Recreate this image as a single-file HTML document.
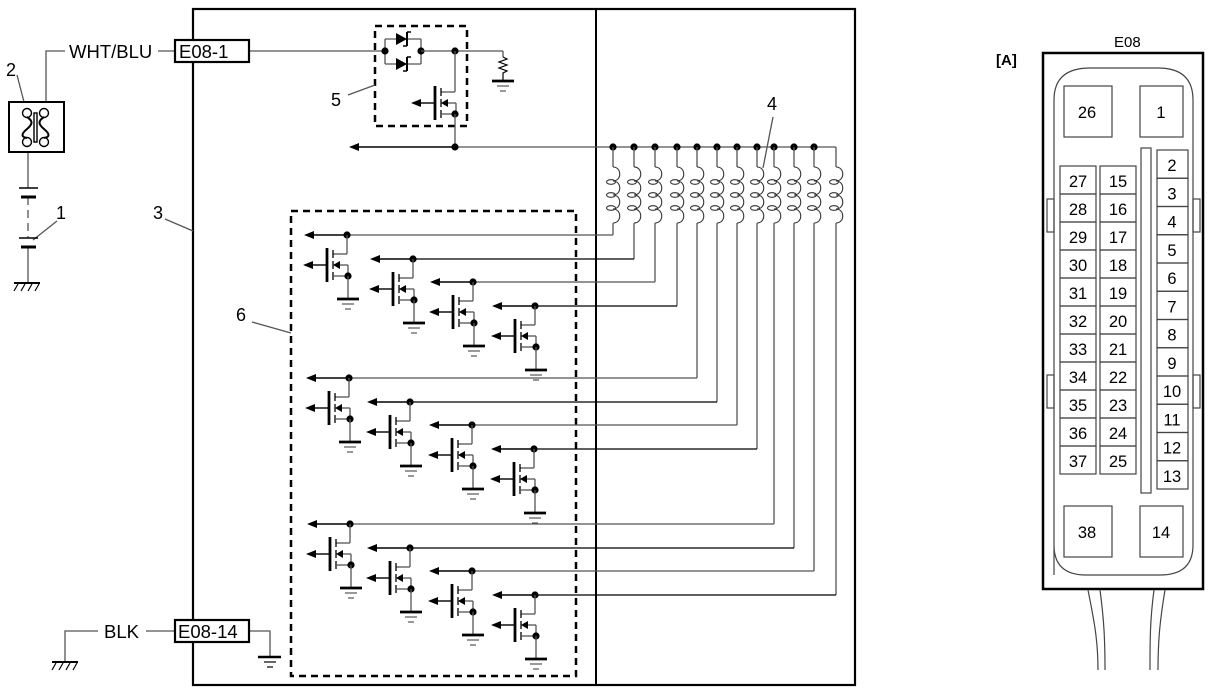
<!DOCTYPE html>
<html><head><meta charset="utf-8"><style>
html,body{margin:0;padding:0;background:#fff;width:1214px;height:694px;overflow:hidden}
svg text{font-family:"Liberation Sans",Arial,sans-serif;fill:#000}
</style></head><body>
<svg id="s" width="1214" height="694" viewBox="0 0 1214 694" xmlns="http://www.w3.org/2000/svg">
<g fill="none" stroke="#000">
<rect x="193" y="9" width="662" height="676" stroke-width="2.2"/>
<line x1="596" y1="9" x2="596" y2="685" stroke-width="2"/>
<rect x="375" y="26" width="92" height="100" stroke-width="2.5" stroke-dasharray="7,5"/>
<rect x="291" y="211" width="285" height="465" stroke-width="2.5" stroke-dasharray="7,5"/>
</g>
<text x="69" y="58" font-size="18.5">WHT/BLU</text>
<g stroke="#555" stroke-width="1.3" fill="none">
<polyline points="65,51 46,51 46,102"/>
<line x1="158" y1="51" x2="175" y2="51"/>
<line x1="249" y1="51" x2="385" y2="51"/>
<line x1="28" y1="152" x2="28" y2="188"/>
<line x1="28" y1="197" x2="28" y2="238" stroke-dasharray="8,5"/>
<line x1="28" y1="248" x2="28" y2="283"/>
<line x1="33" y1="240" x2="57" y2="221"/>
<line x1="17" y1="75" x2="24" y2="102"/>
<line x1="165" y1="219" x2="193" y2="231"/>
<line x1="348" y1="95" x2="375" y2="85"/>
<line x1="773" y1="117" x2="763" y2="168"/>
<line x1="252" y1="322" x2="291" y2="333"/>
</g>
<rect x="175" y="40" width="74" height="22" fill="#fff" stroke="#000" stroke-width="2.2"/>
<text x="179" y="58" font-size="18.5">E08-1</text>
<rect x="9" y="102" width="55" height="50" fill="none" stroke="#000" stroke-width="2"/>
<g stroke="#000" stroke-width="1.4" fill="#fff">
<circle cx="27" cy="113" r="4.5"/><circle cx="44" cy="113" r="4.5"/>
<circle cx="27" cy="142" r="4.5"/><circle cx="44" cy="142" r="4.5"/>
<path d="M27,117 c6,4 6,7 0,12 c-6,5 -6,8 0,9" fill="none" stroke-width="2"/>
<path d="M44,117 c-6,4 -6,7 0,12 c6,5 6,8 0,9" fill="none" stroke-width="2"/>
<rect x="34" y="113" width="3" height="29"/>
</g>
<g stroke="#000">
<line x1="19" y1="188" x2="38" y2="188" stroke-width="1.5"/>
<line x1="21" y1="197" x2="36" y2="197" stroke-width="3"/>
<line x1="19" y1="238" x2="38" y2="238" stroke-width="1.5"/>
<line x1="21" y1="247" x2="36" y2="247" stroke-width="3"/>
<line x1="14" y1="283" x2="40" y2="283" stroke-width="2"/>
<path d="M18,284 l-4,7 M25,284 l-4,7 M32,284 l-4,7 M39,284 l-4,7" stroke-width="1.2"/>
</g>
<text x="6" y="76" font-size="18">2</text>
<text x="56" y="219" font-size="18">1</text>
<text x="153" y="219" font-size="18">3</text>
<text x="331" y="106" font-size="18">5</text>
<text x="767" y="110" font-size="18">4</text>
<text x="236" y="321" font-size="18">6</text>
<text x="104" y="638" font-size="18.5">BLK</text>
<g stroke="#555" stroke-width="1.3" fill="none">
<polyline points="98,631 65,631 65,662"/>
<line x1="146" y1="631" x2="175" y2="631"/>
<polyline points="249,631 270,631 270,657"/>
</g>
<rect x="175" y="620" width="74" height="22" fill="#fff" stroke="#000" stroke-width="2.2"/>
<text x="178" y="638" font-size="18.5">E08-14</text>
<g stroke="#000">
<line x1="52" y1="662" x2="78" y2="662" stroke-width="2"/>
<path d="M56,663 l-4,7 M63,663 l-4,7 M70,663 l-4,7 M77,663 l-4,7" stroke-width="1.2"/>
<line x1="258" y1="657" x2="281" y2="657" stroke-width="2.5"/>
<line x1="264" y1="662" x2="276" y2="662" stroke-width="1.2"/>
<line x1="267" y1="667" x2="273" y2="667" stroke-width="1.2"/>
</g>
<text x="996" y="65" font-size="15" font-weight="bold">[A]</text>
<text x="1114" y="47" font-size="15">E08</text>
<g fill="none" stroke="#000">
<rect x="1043" y="53" width="160" height="536" stroke-width="2.5"/>
<path d="M1054,575 L1054,100 Q1054,68 1090,68 L1158,68 Q1193,68 1193,100 L1193,545 Q1193,575 1160,575 L1086,575 Q1054,575 1054,545" stroke="#444" stroke-width="1.2"/>
<g stroke="#444" stroke-width="1.2">
<rect x="1047" y="199" width="7" height="33"/><rect x="1047" y="375" width="7" height="33"/>
<rect x="1193" y="199" width="7" height="33"/><rect x="1193" y="375" width="7" height="33"/>
<rect x="1064" y="86" width="48" height="51"/><rect x="1140" y="86" width="43" height="51"/>
<rect x="1064" y="506" width="48" height="51"/><rect x="1140" y="506" width="43" height="51"/>
<rect x="1141" y="148" width="10" height="345"/>
<path d="M1088,590 C1094,620 1098,640 1098,670 M1100,590 C1104,620 1105,640 1105,670 M1154,590 C1150,620 1150,640 1150,670 M1165,590 C1160,620 1158,640 1158,670"/>
</g>
</g>
<g font-size="16.5" text-anchor="middle">
<text x="1087" y="118">26</text><text x="1161" y="118">1</text>
<text x="1087" y="538">38</text><text x="1161" y="538">14</text>
</g>
<g id="pins" font-size="16.5" text-anchor="middle"></g>
<g id="dyn"></g>
</svg>
<script>
var NS="http://www.w3.org/2000/svg",dyn=document.getElementById('dyn'),pins=document.getElementById('pins');
function el(t,a,p){var e=document.createElementNS(NS,t);for(var k in a)e.setAttribute(k,a[k]);(p||dyn).appendChild(e);return e;}
function L(x1,y1,x2,y2,w,c){el('line',{x1:x1,y1:y1,x2:x2,y2:y2,stroke:c||'#000','stroke-width':w||1.3});}
function D(x,y){el('circle',{cx:x,cy:y,r:3.6,fill:'#000'});}
function A(x1,y,x2){L(x1,y,x2+8,y,1.4,'#000');el('path',{d:'M'+x2+','+y+' l10,-4 l0,8 z',fill:'#000'});}
function gnd(x,y){L(x-11,y,x+11,y,2.8);L(x-6,y+5,x+6,y+5,1.2,'#555');L(x-3,y+10,x+3,y+10,1.2,'#555');}
var c1=[27,28,29,30,31,32,33,34,35,36,37],c2=[15,16,17,18,19,20,21,22,23,24,25];
for(var i=0;i<11;i++){var y=166+i*28;
el('rect',{x:1060,y:y,width:36,height:28,fill:'none',stroke:'#444','stroke-width':1.2});
el('rect',{x:1100,y:y,width:36,height:28,fill:'none',stroke:'#444','stroke-width':1.2});
var t=el('text',{x:1078,y:y+21},pins);t.textContent=c1[i];t=el('text',{x:1118,y:y+21},pins);t.textContent=c2[i];}
for(var i=0;i<12;i++){var y=150+i*28.25;
el('rect',{x:1157,y:y,width:31,height:28.25,fill:'none',stroke:'#444','stroke-width':1.2});
var t=el('text',{x:1172,y:y+21},pins);t.textContent=i+2;}
function fet(dx,T,ry){
 L(dx,ry,dx,T,1.3,'#555');L(dx,T,dx-14,T,1.3,'#555');
 L(dx-20,T-6,dx-20,T+28,2.8);
 L(dx-14,T-4,dx-14,T+4,1.3);L(dx-14,T+7,dx-14,T+15,1.3);L(dx-14,T+18,dx-14,T+26,1.3);
 L(dx-14,T+22,dx,T+22,1.3,'#555');L(dx-9,T+11,dx+1,T+11,1.3,'#555');
 el('path',{d:'M'+(dx-14)+','+(T+11)+' l7,-4 l0,8 z',fill:'#000'});
 L(dx+1,T+11,dx+1,T+22,1.3,'#555');
 A(dx-20,T+11,dx-44);
}
L(385,39,421,39,1.3,'#555');L(385,64,421,64,1.3,'#555');L(385,39,385,64,1.3,'#555');L(421,39,421,64,1.3,'#555');
[39,64].forEach(function(y){el('path',{d:'M396,'+(y-6)+' L407,'+y+' L396,'+(y+6)+' z',fill:'#000'});L(407,y-7,407,y+7,2);L(407,y-7,411,y-7,1.5);L(407,y+7,403,y+7,1.5);});
D(385,51);D(421,51);L(421,51,503,51,1.3,'#555');D(455,51);
L(503,51,503,57,1.3,'#555');el('path',{d:'M503,57 l4,2 l-8,3 l8,3 l-8,3 l8,3 l-4,2 L503,80',fill:'none',stroke:'#000','stroke-width':1.2});
gnd(503,81);
fet(455,92,51);D(455,114);L(455,114,455,147,1.3,'#555');
A(455,147,349);L(455,147,836,147,1.3,'#555');D(455,147);
var cx=[613,634,655,677,697,717,737,757,774,794,814,836];
var gy=[235,378,524],gdx=[[347,413,473,535],[349,410,472,534],[350,410,472,535]];
for(var i=0;i<12;i++){var x=cx[i];if(i<11)D(x,147);
 L(x,147,x,167,1.3,'#555');
 var d='M'+x+',167';for(var k=0;k<4;k++)d+=' c9,0 9,14 0,14';
 el('path',{d:d,fill:'none',stroke:'#333','stroke-width':1.1});
 for(var k=0;k<3;k++)el('ellipse',{cx:x-2,cy:182+k*13,rx:4.5,ry:2.3,fill:'none',stroke:'#333','stroke-width':1.1});
 var g=Math.floor(i/4),j=i%4,ry=Math.round(gy[g]+j*23.6),dx=gdx[g][j];
 L(x,223,x,ry,1.3,'#555');L(dx,ry,x,ry,1.3,j%2?'#000':'#555');
 D(dx,ry);A(dx,ry,dx-43);
 fet(dx,ry+19,ry);D(dx+1,ry+41);L(dx+1,ry+41,dx+1,ry+64,1.3,'#555');gnd(dx+1,ry+64);
}
</script>
</body></html>
